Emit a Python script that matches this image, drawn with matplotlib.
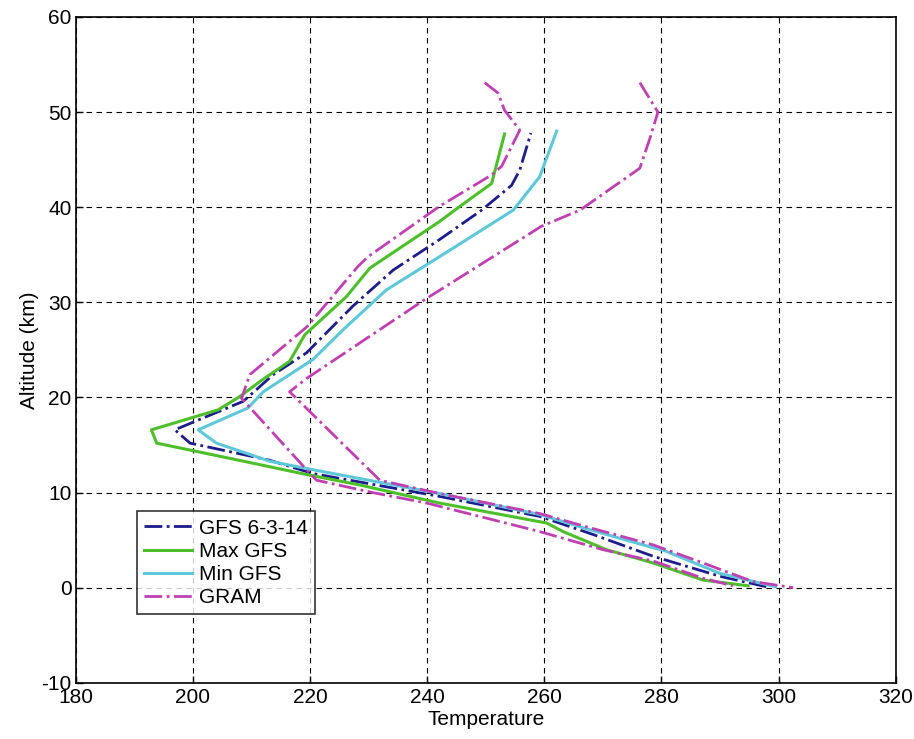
import matplotlib.pyplot as plt

# temperature (K) / altitude (km) profiles
gfs_temp = [297.9, 290.0, 278.6, 268.3, 259.2, 242.1, 220.5, 213.1, 199.5, 196.9,
            208.6, 213.7, 219.4, 227.3, 234.2, 242.1, 249.3, 254.4, 255.8, 257.7]
gfs_alt = [0.1, 1.2, 3.3, 5.6, 7.5, 9.6, 12.0, 13.4, 15.2, 16.6,
           19.6, 22.4, 24.7, 29.6, 33.4, 36.6, 39.7, 42.3, 43.9, 47.8]

max_temp = [294.8, 287.1, 278.6, 270.6, 263.2, 260.4, 242.1, 228.5, 219.4, 206.3,
            193.8, 192.9, 204.3, 208.0, 211.7, 216.5, 219.1, 226.2, 230.2, 242.1,
            245.6, 251.0, 253.2]
max_alt = [0.2, 0.8, 2.6, 4.0, 5.9, 6.8, 8.9, 10.8, 11.9, 13.6,
           15.2, 16.6, 18.7, 20.1, 21.8, 23.8, 26.6, 30.6, 33.6, 38.5,
           40.1, 42.5, 47.7]

min_temp = [299.5, 290.0, 280.5, 278.6, 267.2, 259.2, 242.1, 220.5, 213.1, 204.0,
            200.9, 209.4, 212.0, 220.5, 225.6, 233.0, 242.1, 254.7, 259.2, 262.1]
min_alt = [0.1, 1.5, 3.9, 4.2, 6.2, 7.7, 9.9, 12.4, 13.3, 15.2,
           16.6, 18.9, 20.6, 24.0, 27.1, 31.3, 34.8, 39.7, 43.2, 48.0]

gram_cold_temp = [249.8, 252.1, 253.2, 255.8, 252.7, 251.0, 242.1, 229.9, 228.2, 219.4,
                  209.7, 208.3, 219.4, 221.1, 230.7, 239.9, 259.2, 270.0, 278.6, 287.1,
                  292.2]
gram_cold_alt = [53.1, 52.0, 50.2, 48.1, 44.3, 43.4, 40.1, 34.8, 33.8, 27.4,
                 22.4, 19.9, 12.4, 11.3, 10.0, 8.9, 5.9, 4.0, 2.8, 1.0,
                 0.2]

gram_warm_temp = [276.3, 279.4, 278.0, 276.3, 266.1, 259.5, 239.6, 219.4, 216.5, 231.9,
                  242.1, 259.2, 267.2, 278.6, 287.1, 295.6, 302.5]
gram_warm_alt = [53.1, 50.0, 47.2, 44.1, 39.7, 38.0, 30.3, 22.0, 20.6, 11.3,
                 9.9, 7.8, 6.4, 4.5, 2.6, 0.65, 0.0]

plt.rcParams["font.family"] = ["Liberation Sans", "DejaVu Sans"]
plt.rcParams["axes.unicode_minus"] = False

fig = plt.figure(figsize=(9.14, 7.39), dpi=100)
ax = fig.add_axes([0.083, 0.076, 0.897, 0.901])

ax.plot(gfs_temp, gfs_alt, color="#1c1c8c", linestyle="-.", linewidth=2, label="GFS 6-3-14")
ax.plot(max_temp, max_alt, color="#4cbf2a", linestyle="-", linewidth=2.2, label="Max GFS")
ax.plot(min_temp, min_alt, color="#5cc8da", linestyle="-", linewidth=2.2, label="Min GFS")
ax.plot(gram_cold_temp, gram_cold_alt, color="#c040b4", linestyle="-.", linewidth=2, label="GRAM")
ax.plot(gram_warm_temp, gram_warm_alt, color="#c040b4", linestyle="-.", linewidth=2)

ax.set_xlim(180, 320)
ax.set_ylim(-10, 60)
ax.set_xticks(range(180, 321, 20))
ax.set_yticks(range(-10, 61, 10))
ax.grid(True, color="black", linestyle=(0, (5, 4)), linewidth=0.8)
ax.tick_params(direction="in", labelsize=15, length=5, width=1)
ax.tick_params(axis="x", pad=4)
ax.tick_params(axis="y", pad=3)
for s in ax.spines.values():
    s.set_linewidth(1.2)

ax.set_xlabel("Temperature", fontsize=15, labelpad=2)
ax.set_ylabel("Altitude (km)", fontsize=15, labelpad=2)

leg = ax.legend(loc="lower left", bbox_to_anchor=(0.062, 0.087), fontsize=15,
                frameon=True, fancybox=False, edgecolor="black", handlelength=2.3,
                handletextpad=0.3, borderpad=0.35, labelspacing=0.2)
leg.get_frame().set_linewidth(1.2)

fig.savefig("out.png", dpi=100)
